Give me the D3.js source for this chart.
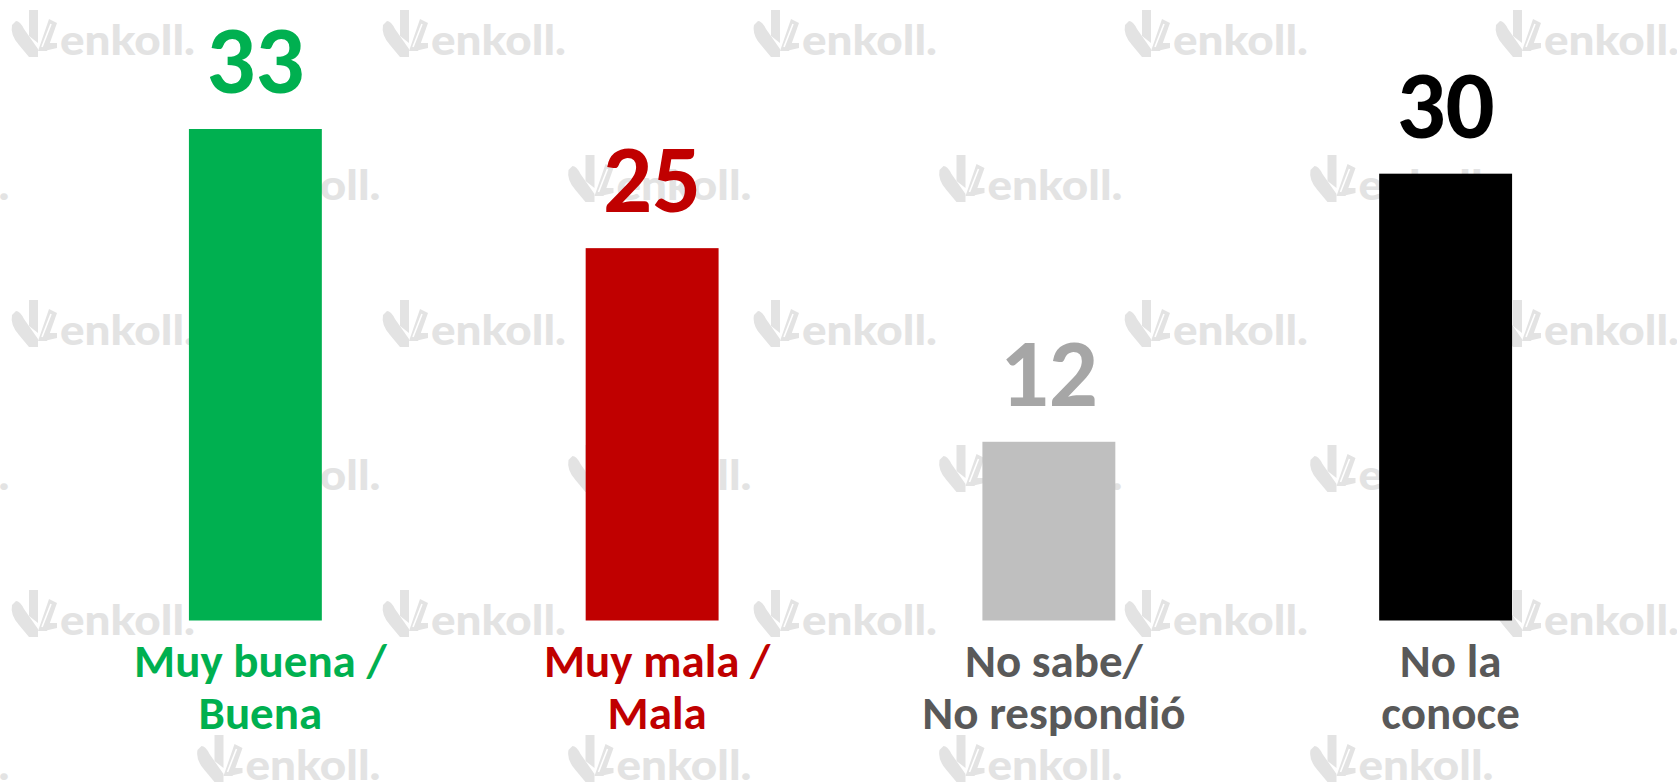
<!DOCTYPE html>
<html>
<head>
<meta charset="utf-8">
<script src="https://cdn.jsdelivr.net/npm/d3@7"></script>
<style>
  html, body { margin: 0; padding: 0; background: #ffffff; }
  svg { display: block; }
</style>
</head>
<body>
<script>
// ---- data ----
const categories = ["Muy buena / Buena", "Muy mala / Mala", "No sabe/ No respondió", "No la conoce"];
const categoryLines = [["Muy buena /", "Buena"], ["Muy mala /", "Mala"], ["No sabe/", "No respondió"], ["No la", "conoce"]];
const values = [33, 25, 12, 30];

// ---- styles ----
const barColors = ["#00B050", "#C00000", "#BFBFBF", "#000000"];
const valueColors = ["#00B050", "#C00000", "#A6A6A6", "#000000"];
const labelColors = ["#00B050", "#C00000", "#595959", "#595959"];

const W = 1677, H = 784;
const FONT = "Calibri, Carlito, Lato, 'Open Sans', sans-serif";

const svg = d3.select("body").append("svg")
  .attr("width", W).attr("height", H)
  .attr("viewBox", `0 0 ${W} ${H}`);

svg.append("rect").attr("width", W).attr("height", H).attr("fill", "#ffffff");

// ---- watermark tiling (decorative) ----
const wm = svg.append("g").attr("class", "watermarks");
const periodX = 371, periodY = 145;
const iconPaths = [
  "M1,15 Q-1,25 8,35 L18,47 L27,47 L27,39 L13,19 Q9,11 5,11 Z",
  "M18,0 L27,0 L27,33 L18,26 Z",
  "M27,41 L38,9 L46,13 L36,41 Z",
  "M33,33 L46,33 L46,38 L33,41 Z"
];
for (let r = 0; r < 6; r++) {
  const top = 10 + r * periodY;
  const offset = (r % 2 === 0) ? 11 : 11 + periodX / 2 - periodX;
  for (let c = 0; c < 6; c++) {
    const x0 = offset + c * periodX;
    if (x0 > W) continue;
    const g = wm.append("g").attr("transform", `translate(${x0},${top})`);
    iconPaths.forEach(p => g.append("path").attr("d", p).attr("fill", "#E3E3E3"));
    g.append("path").attr("d", "M31,37 L40,14").attr("stroke", "#ffffff").attr("stroke-width", 1.6).attr("fill", "none");
    g.append("text")
      .attr("x", 49).attr("y", 45)
      .attr("font-family", "Lato, 'Open Sans', sans-serif")
      .attr("font-weight", 900)
      .attr("font-size", 42)
      .attr("textLength", 135)
      .attr("lengthAdjust", "spacingAndGlyphs")
      .attr("fill", "#E3E3E3")
      .text("enkoll.");
  }
}

// ---- scales ----
const x = d3.scaleBand()
  .domain(categories)
  .range([57, 1644])
  .paddingInner(0.665)
  .paddingOuter(0.3325);

const y = d3.scaleLinear()
  .domain([0, 33])
  .range([620.5, 129]);

const data = categories.map((c, i) => ({ cat: c, value: values[i], lines: categoryLines[i], i }));

// ---- bars ----
svg.append("g").selectAll("rect.bar")
  .data(data).join("rect")
  .attr("class", "bar")
  .attr("x", d => x(d.cat))
  .attr("y", d => y(d.value))
  .attr("width", x.bandwidth())
  .attr("height", d => y(0) - y(d.value))
  .attr("fill", d => barColors[d.i]);

// ---- value labels ----
svg.append("g").selectAll("text.val")
  .data(data).join("text")
  .attr("class", "val")
  .attr("x", d => x(d.cat) + x.bandwidth() / 2)
  .attr("y", d => y(d.value) - 36)
  .attr("text-anchor", "middle")
  .attr("font-family", FONT)
  .attr("font-weight", "bold")
  .attr("font-size", 97)
  .attr("fill", d => valueColors[d.i])
  .text(d => d.value);

// ---- category labels ----
const lab = svg.append("g").selectAll("text.cat")
  .data(data).join("text")
  .attr("class", "cat")
  .attr("text-anchor", "middle")
  .attr("font-family", FONT)
  .attr("font-weight", "bold")
  .attr("font-size", 47)
  .attr("fill", d => labelColors[d.i]);

lab.selectAll("tspan")
  .data(d => d.lines.map(l => ({ l, d })))
  .join("tspan")
  .attr("x", t => x(t.d.cat) + x.bandwidth() / 2 + 5)
  .attr("y", (t, j) => 677 + j * 52)
  .text(t => t.l);
</script>
</body>
</html>
